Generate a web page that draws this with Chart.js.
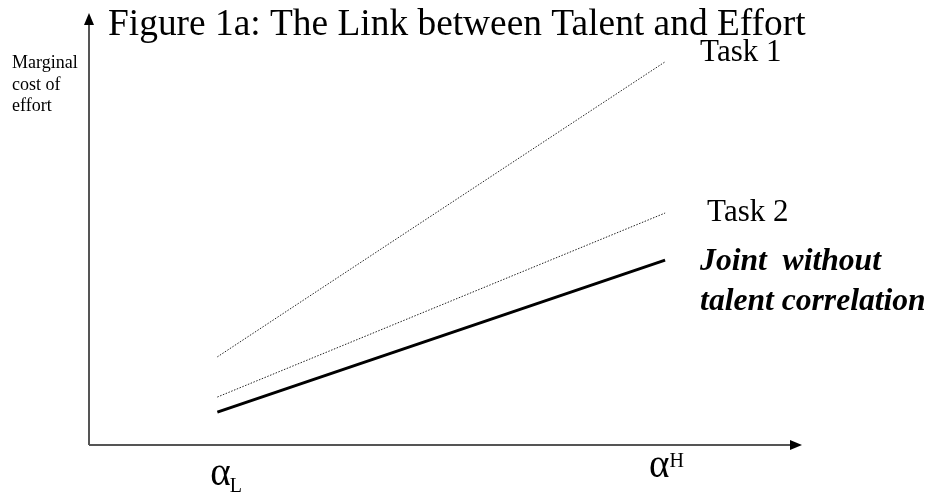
<!DOCTYPE html>
<html>
<head>
<meta charset="utf-8">
<title>Figure 1a: The Link between Talent and Effort</title>
<script src="https://cdn.jsdelivr.net/npm/chart.js@4/dist/chart.umd.min.js"></script>
<style>
  html, body { margin: 0; padding: 0; background: #ffffff; }
  #wrap { width: 932px; height: 499px; }
</style>
</head>
<body>
<div id="wrap"><canvas id="fig"></canvas></div>
<script>
// Talent levels (low and high) on the horizontal axis
const talentLevels = [0.18, 0.808];
const talentLabels = ['L', 'H'];

// Marginal cost of effort at each talent level
const task1Cost = [20.4, 88.7];
const task2Cost = [11.1, 53.7];
const jointCost = [7.6, 42.8];

const seriesNames = ['Task 1', 'Task 2', 'Joint  without', 'talent correlation'];
const titleText = 'Figure 1a: The Link between Talent and Effort';
const yAxisLines = ['Marginal', 'cost of', 'effort'];

const SERIF = "'Liberation Serif', 'Times New Roman', serif";

function pts(ys) {
  return talentLevels.map((x, i) => ({ x: x, y: ys[i] }));
}

// Axes with arrowheads plus all annotation text
const figureDecor = {
  id: 'figureDecor',
  afterDraw(chart) {
    const { ctx, chartArea, scales } = chart;
    const xs = scales.x, ys = scales.y;
    const x0 = xs.getPixelForValue(xs.min);
    const y0 = ys.getPixelForValue(ys.min);
    const xTip = chartArea.right;
    const yTip = chartArea.top;

    ctx.save();
    // axis lines
    ctx.strokeStyle = '#555555';
    ctx.lineWidth = 2;
    ctx.beginPath();
    ctx.moveTo(x0, y0);
    ctx.lineTo(x0, yTip + 8);
    ctx.moveTo(x0, y0);
    ctx.lineTo(xTip - 8, y0);
    ctx.stroke();

    // arrowheads
    ctx.fillStyle = '#000000';
    ctx.beginPath();
    ctx.moveTo(x0, yTip);
    ctx.lineTo(x0 - 5, yTip + 12);
    ctx.lineTo(x0 + 5, yTip + 12);
    ctx.closePath();
    ctx.fill();
    ctx.beginPath();
    ctx.moveTo(xTip, y0);
    ctx.lineTo(xTip - 12, y0 - 5);
    ctx.lineTo(xTip - 12, y0 + 5);
    ctx.closePath();
    ctx.fill();

    ctx.textBaseline = 'alphabetic';
    ctx.textAlign = 'left';

    // title
    ctx.font = '37.4px ' + SERIF;
    ctx.fillText(titleText, x0 + 19, 35);

    // vertical axis caption
    ctx.font = '18px ' + SERIF;
    yAxisLines.forEach((t, i) => ctx.fillText(t, 12, 68 + i * 21.5));

    // series labels beside the line ends
    const xEnd = xs.getPixelForValue(talentLevels[1]);
    ctx.font = '31px ' + SERIF;
    ctx.fillText(seriesNames[0], xEnd + 35, ys.getPixelForValue(task1Cost[1]) - 1);
    ctx.fillText(seriesNames[1], xEnd + 42, ys.getPixelForValue(task2Cost[1]) + 8);
    ctx.font = 'italic bold 31.6px ' + SERIF;
    const jy = ys.getPixelForValue(jointCost[1]) + 10;
    ctx.fillText(seriesNames[2], xEnd + 35, jy);
    ctx.fillText(seriesNames[3], xEnd + 35, jy + 40);

    // talent tick labels: alpha_L and alpha^H
    const xL = xs.getPixelForValue(talentLevels[0]);
    const xH = xs.getPixelForValue(talentLevels[1]);
    ctx.font = '39px ' + SERIF;
    const wA = ctx.measureText('α').width;
    ctx.fillText('α', xL - 7, y0 + 40);
    ctx.fillText('α', xH - 16, y0 + 32);
    ctx.font = '20px ' + SERIF;
    ctx.fillText(talentLabels[0], xL - 8 + wA, y0 + 47);
    ctx.fillText(talentLabels[1], xH - 16 + wA, y0 + 22);
    ctx.restore();
  }
};

new Chart(document.getElementById('fig'), {
  type: 'line',
  data: {
    datasets: [
      {
        label: seriesNames[0],
        data: pts(task1Cost),
        borderColor: '#222222',
        borderWidth: 1,
        borderDash: [1.5, 1.5],
        pointRadius: 0
      },
      {
        label: seriesNames[1],
        data: pts(task2Cost),
        borderColor: '#222222',
        borderWidth: 1,
        borderDash: [1.5, 1.5],
        pointRadius: 0
      },
      {
        label: seriesNames[2] + ' ' + seriesNames[3],
        data: pts(jointCost),
        borderColor: '#000000',
        borderWidth: 3,
        pointRadius: 0
      }
    ]
  },
  options: {
    responsive: true,
    maintainAspectRatio: false,
    animation: false,
    layout: { padding: { left: 89, right: 130, top: 13, bottom: 54 } },
    scales: {
      x: { type: 'linear', min: 0, max: 1, display: false },
      y: { type: 'linear', min: 0, max: 100, display: false }
    },
    plugins: {
      legend: { display: false },
      title: { display: false },
      tooltip: { enabled: false }
    }
  },
  plugins: [figureDecor]
});
</script>
</body>
</html>
